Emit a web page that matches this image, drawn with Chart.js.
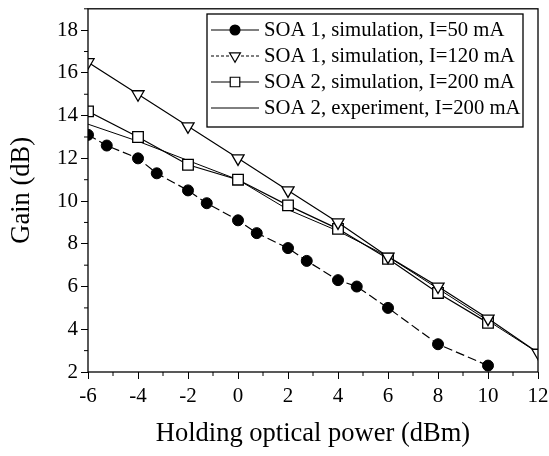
<!DOCTYPE html>
<html>
<head>
<meta charset="utf-8">
<script src="https://cdn.jsdelivr.net/npm/chart.js@4/dist/chart.umd.min.js"></script>
<style>
  html, body { margin: 0; padding: 0; background: #fff; }
  #wrap { width: 549px; height: 456px; }
</style>
</head>
<body>
<div id="wrap"><canvas id="chart_gain" width="549" height="456"></canvas></div>
<script>
// data
const xTicks = [-6, -4, -2, 0, 2, 4, 6, 8, 10, 12]
const yTicks = [2, 4, 6, 8, 10, 12, 14, 16, 18]

const soa1_50_x = [-6, -5.25, -4, -3.25, -2, -1.25, 0, 0.75, 2, 2.75, 4, 4.75, 6, 8, 10]
const soa1_50_y = [13.1, 12.6, 12.0, 11.3, 10.5, 9.9, 9.1, 8.5, 7.8, 7.2, 6.3, 6.0, 5.0, 3.3, 2.3]

const soa1_120_x = [-6, -4, -2, 0, 2, 4, 6, 8, 10, 12]
const soa1_120_y = [16.5, 15.0, 13.5, 12.0, 10.5, 9.0, 7.4, 6.0, 4.5, 2.9]

const soa2_sim_x = [-6, -4, -2, 0, 2, 4, 6, 8, 10]
const soa2_sim_y = [14.2, 13.0, 11.7, 11.0, 9.8, 8.7, 7.3, 5.7, 4.3]

const soa2_exp_x = [-6, -4, -2, 0, 2, 4, 6, 8, 10, 12]
const soa2_exp_y = [13.6, 12.8, 11.9, 11.0, 9.6, 8.6, 7.4, 5.9, 4.4, 2.9]

const labels = [
    'SOA 1, simulation, I=50 mA',
    'SOA 1, simulation, I=120 mA',
    'SOA 2, simulation, I=200 mA',
    'SOA 2, experiment, I=200 mA'
]

const serif = "'Liberation Serif', 'Times New Roman', serif"

function pts(xs, ys) {
    return xs.map((x, i) => ({x: x, y: ys[i]}))
}

// minor ticks + frame
const frameTicks = {
    id: 'frameTicks',
    afterDraw(chart) {
        const ctx = chart.ctx
        const a = chart.chartArea
        const sx = chart.scales.x, sy = chart.scales.y
        ctx.save()
        ctx.strokeStyle = '#000'
        ctx.lineWidth = 1.3
        ctx.strokeRect(a.left, a.top, a.right - a.left, a.bottom - a.top)
        ctx.lineWidth = 1
        ctx.beginPath()
        for (let v = -6; v <= 12; v++) {
            if (xTicks.includes(v)) continue
            const px = sx.getPixelForValue(v)
            ctx.moveTo(px, a.bottom)
            ctx.lineTo(px, a.bottom + 4)
        }
        for (let v = 3; v <= 19; v++) {
            if (yTicks.includes(v)) continue
            const py = sy.getPixelForValue(v)
            ctx.moveTo(a.left, py)
            ctx.lineTo(a.left - 4, py)
        }
        ctx.stroke()
        ctx.restore()
    }
}

// legend box drawn with line + marker samples
const lineLegend = {
    id: 'lineLegend',
    afterDraw(chart) {
        const ctx = chart.ctx
        const bx = 207, by = 14, bw = 316, bh = 113
        ctx.save()
        ctx.fillStyle = '#fff'
        ctx.fillRect(bx, by, bw, bh)
        ctx.strokeStyle = '#000'
        ctx.lineWidth = 1.3
        ctx.strokeRect(bx, by, bw, bh)
        ctx.font = '20.7px ' + serif
        ctx.textBaseline = 'middle'
        chart.data.datasets.forEach((ds, i) => {
            const y = by + 16 + i * 26
            ctx.strokeStyle = '#000'
            ctx.lineWidth = ds.borderWidth
            ctx.setLineDash(ds.legendDash || [])
            ctx.beginPath()
            ctx.moveTo(bx + 4, y)
            ctx.lineTo(bx + 52, y)
            ctx.stroke()
            ctx.setLineDash([])
            if (ds.pointRadius > 0) {
                ctx.fillStyle = ds.pointBackgroundColor
                ctx.strokeStyle = '#000'
                ctx.lineWidth = 1.2
                Chart.helpers.drawPoint(ctx, {
                    pointStyle: ds.pointStyle,
                    radius: ds.pointRadius * 0.9,
                    rotation: ds.pointRotation || 0,
                    borderWidth: 1.2
                }, bx + 28, y)
            }
            ctx.fillStyle = '#000'
            ctx.fillText(ds.label, bx + 57, y + 1)
        })
        ctx.restore()
    }
}

const ctx = document.getElementById('chart_gain')

let chartLine = new Chart(ctx, {
    type: 'line',
    data: {
        datasets: [
            {
                label: labels[0],
                data: pts(soa1_50_x, soa1_50_y),
                borderColor: '#000',
                borderWidth: 1.2,
                borderDash: [9, 4],
                pointStyle: 'circle',
                pointRadius: 5.5,
                pointBackgroundColor: '#000',
                pointBorderColor: '#000',
                pointBorderWidth: 1,
                legendDash: []
            },
            {
                label: labels[1],
                data: pts(soa1_120_x, soa1_120_y),
                borderColor: '#000',
                borderWidth: 1.2,
                pointStyle: 'triangle',
                pointRotation: 180,
                pointRadius: 7,
                pointBackgroundColor: '#fff',
                pointBorderColor: '#000',
                pointBorderWidth: 1.3,
                legendDash: [3, 2]
            },
            {
                label: labels[2],
                data: pts(soa2_sim_x, soa2_sim_y),
                borderColor: '#000',
                borderWidth: 1.2,
                pointStyle: 'rect',
                pointRadius: 7.5,
                pointBackgroundColor: '#fff',
                pointBorderColor: '#000',
                pointBorderWidth: 1.3,
                legendDash: []
            },
            {
                label: labels[3],
                data: pts(soa2_exp_x, soa2_exp_y),
                borderColor: '#000',
                borderWidth: 1,
                pointRadius: 0,
                legendDash: []
            }
        ]
    },
    options: {
        responsive: false,
        animation: false,
        events: [],
        layout: { padding: { top: 6, right: 11, left: 0, bottom: 0 } },
        plugins: {
            legend: { display: false },
            tooltip: { enabled: false }
        },
        elements: { line: { tension: 0 } },
        scales: {
            x: {
                type: 'linear',
                min: -6,
                max: 12,
                afterBuildTicks: s => { s.ticks = xTicks.map(v => ({value: v})) },
                afterFit: s => { s.height = 84; s.paddingLeft = 0; s.paddingRight = 0 },
                grid: { display: true, drawOnChartArea: false, tickLength: 7, tickColor: '#000', tickWidth: 1 },
                border: { display: false },
                ticks: { color: '#000', padding: 5, maxRotation: 0, font: { family: serif, size: 21 } },
                title: {
                    display: true,
                    text: 'Holding optical power (dBm)',
                    color: '#000',
                    font: { family: serif, size: 26.5 },
                    padding: { top: 6, bottom: 6 }
                }
            },
            y: {
                type: 'linear',
                min: 2,
                max: 19,
                afterBuildTicks: s => { s.ticks = yTicks.map(v => ({value: v})) },
                afterFit: s => { s.width = 88; s.paddingTop = 0; s.paddingBottom = 0 },
                grid: { display: true, drawOnChartArea: false, tickLength: 7, tickColor: '#000', tickWidth: 1 },
                border: { display: false },
                ticks: { color: '#000', padding: 3, font: { family: serif, size: 21 } },
                title: {
                    display: true,
                    text: 'Gain (dB)',
                    color: '#000',
                    font: { family: serif, size: 26.5 },
                    padding: { top: 6, bottom: 4 }
                }
            }
        }
    },
    plugins: [frameTicks, lineLegend]
})
</script>
</body>
</html>
